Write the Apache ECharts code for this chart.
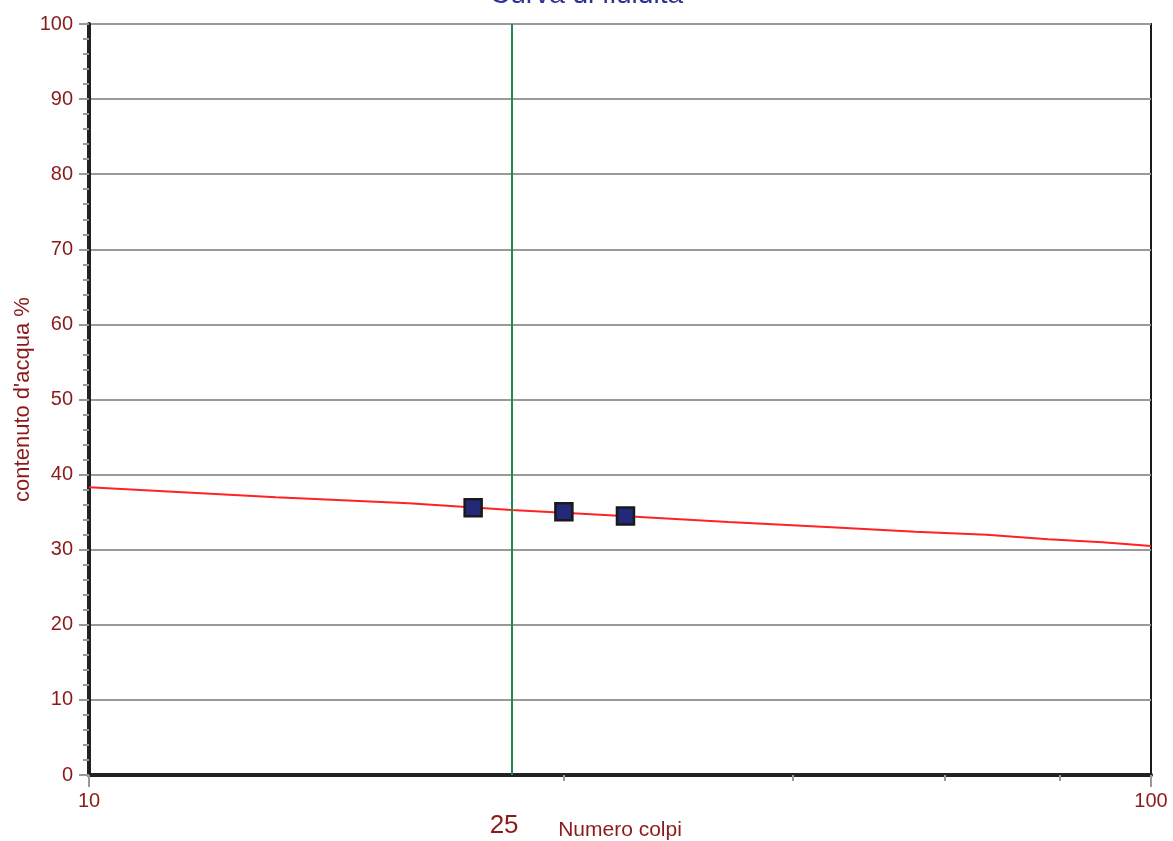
<!DOCTYPE html>
<html>
<head>
<meta charset="utf-8">
<script src="https://cdn.jsdelivr.net/npm/echarts@6/dist/echarts.min.js"></script>
<style>html,body{margin:0;padding:0;background:#fff}#c{width:1173px;height:841px}</style>
</head>
<body>
<div id="c"></div>
<script>
const titleText = 'Curva di fluidità';
const xName = 'Numero colpi';
const yName = "contenuto d'acqua %";
const fitN = [10, 15, 20, 25, 30, 40, 50, 60, 70, 80, 90, 100];
const fitW = [38.3, 37.0, 36.2, 35.3, 34.7, 33.7, 33.0, 32.4, 32.0, 31.4, 31.0, 30.5];
const sampleN = [23, 28, 32];
const sampleW = [35.6, 35.05, 34.5];
const refN = 25;
const xLabelValues = [10, 25, 100];
const xMajorTicks = [10, 100];
const xMinorTicks = [28, 46, 64, 82];

const labelColor = '#8B1A1A';
const font = 'Liberation Sans, Arial, sans-serif';

const chart = echarts.init(document.getElementById('c'), null, {renderer: 'canvas'});
chart.setOption({
  animation: false,
  title: {
    text: titleText, left: 'center', top: -24,
    textStyle: {color: '#2E3192', fontSize: 28, fontWeight: 'normal', fontFamily: font}
  },
  grid: {left: 89, right: 22, top: 24, bottom: 66, show: true, borderColor: '#1a1a1a', borderWidth: 2,
         containLabel: false, outerBoundsMode: 'none'},
  xAxis: [{
    type: 'log', logBase: 10, min: 10, max: 100,
    name: xName, nameLocation: 'middle', nameGap: 45, nameMoveOverlap: false,
    nameTextStyle: {color: labelColor, fontSize: 21, fontFamily: font},
    axisLine: {show: true, lineStyle: {color: '#222', width: 4}},
    axisTick: {show: true, customValues: xMajorTicks, length: 12, lineStyle: {color: '#999', width: 2}},
    axisLabel: {
      customValues: xLabelValues, color: labelColor, fontSize: 20, fontFamily: font, margin: 16,
      formatter: v => (v === refN ? '{big|' + v + '}' : String(v)),
      rich: {big: {fontSize: 26, color: labelColor, fontFamily: font, padding: [22, 15, 0, 0]}}
    },
    splitLine: {show: false}
  }, {
    type: 'log', logBase: 10, min: 10, max: 100, position: 'bottom',
    axisLine: {show: false},
    axisTick: {show: true, customValues: xMinorTicks, length: 6, lineStyle: {color: '#999', width: 2}},
    axisLabel: {show: false},
    splitLine: {show: false}
  }],
  yAxis: {
    type: 'value', min: 0, max: 100, interval: 10,
    name: yName, nameLocation: 'middle', nameGap: 55, nameMoveOverlap: false,
    nameTextStyle: {color: labelColor, fontSize: 22, fontFamily: font},
    axisLine: {show: true, lineStyle: {color: '#222', width: 4}},
    axisTick: {show: true, length: 10, lineStyle: {color: '#999', width: 2}},
    minorTick: {show: true, splitNumber: 5, length: 6, lineStyle: {color: '#999', width: 2}},
    axisLabel: {color: labelColor, fontSize: 20, fontFamily: font, margin: 16},
    splitLine: {show: true, lineStyle: {color: '#999', width: 2}}
  },
  series: [{
    type: 'line', xAxisIndex: 0,
    data: fitN.map((n, i) => [n, fitW[i]]),
    showSymbol: false, symbol: 'none',
    lineStyle: {color: '#FF2222', width: 2},
    z: 3,
    markLine: {
      silent: true, symbol: 'none',
      label: {show: false},
      lineStyle: {color: '#1E8A4C', width: 2, type: 'solid'},
      data: [{xAxis: refN}]
    }
  }, {
    type: 'scatter', xAxisIndex: 0,
    data: sampleN.map((n, i) => [n, sampleW[i]]),
    symbol: 'rect', symbolSize: 17,
    itemStyle: {color: '#232878', borderColor: '#1a1a1a', borderWidth: 2.5, opacity: 1},
    z: 5
  }]
});
</script>
</body>
</html>
